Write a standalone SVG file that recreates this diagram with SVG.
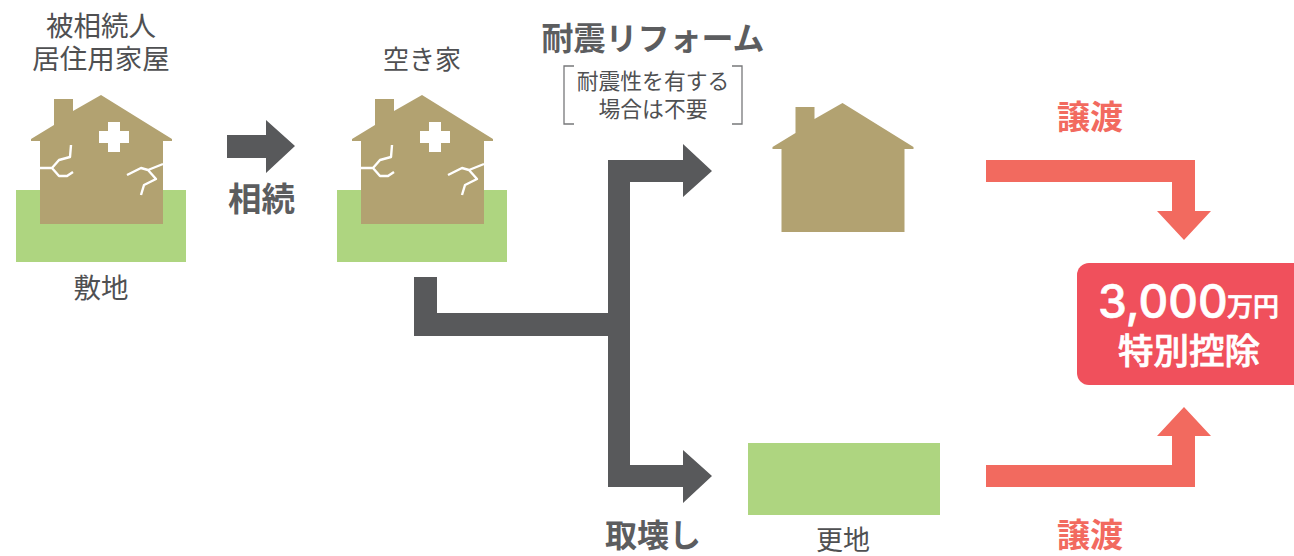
<svg xmlns="http://www.w3.org/2000/svg" width="1294" height="556" viewBox="0 0 1294 556">
<style>
text{font-family:"Noto Sans CJK JP","Noto Sans",sans-serif;text-anchor:middle}
.n{font-size:27.5px;fill:#4f5052}
.s{font-size:21.8px;fill:#4f5052}
.b{font-size:33.5px;font-weight:700;fill:#5c5d5f}
.t{font-size:32px;font-weight:700;fill:#5c5d5f}
.r{font-size:33px;font-weight:700;fill:#f26a5f}
.w{fill:#fff;font-weight:500;stroke:#fff;stroke-width:.7}
.g{fill:#aed580}
.h{fill:#b2a271}
.c{fill:none;stroke:#fff;stroke-width:2.4;stroke-linejoin:round}
.k{fill:#58595b}
.a{fill:#f26a5f}
.br{fill:none;stroke:#77787a;stroke-width:1.3}
</style>
<defs>
<path id="house" class="h" d="M101 95L172 139V141H163V224H40V141H31V139L54 125V99H73V111Z"/>
<g id="damage">
<path fill="#fff" d="M108 122H120V131H129V143H120V152H108V143H99V131H108Z"/>
<path class="c" d="M71 145L70 157L59 160L52 168M40 168H52L59 176H67L73 172M163 164L148 170L141 168L127 175M148 170L156 179L144 185L141 195"/>
</g>
</defs>
<g id="connectors">
<path id="arrow-inherit" class="k" d="M227 135H266V120L295 146L266 173V158H227Z"/>
<path id="arrow-branch" class="k" d="M414 277H437V313H608V160H683V144L712 171L683 197V182H630V465H683V450L712 476L683 503V487H608V336H414Z"/>
<path id="arrow-transfer-top" class="a" d="M986 160H1195V211H1211L1184 240L1157 211H1172V182H986Z"/>
<path id="arrow-transfer-bottom" class="a" d="M986 487H1195V436H1211L1184 407L1157 436H1172V465H986Z"/>
</g>
<g id="node-original">
<text class="n" x="101" y="36">被相続人</text>
<text class="n" x="101" y="69">居住用家屋</text>
<rect class="g" x="16" y="190" width="170" height="72"/>
<use href="#house"/><use href="#damage"/>
<text class="n" x="101" y="298">敷地</text>
</g>
<g id="label-inherit"><text class="b" x="261.500" y="211">相続</text></g>
<g id="node-vacant">
<text class="n" x="422" y="69" style="font-size:26px">空き家</text>
<rect class="g" x="337" y="190" width="170" height="72"/>
<use href="#house" x="321"/><use href="#damage" x="321"/>
</g>
<g id="node-reform">
<text class="t" x="653" y="50">耐震リフォーム</text>
<path class="br" d="M574 66H564V124H574M732 66H742V124H732"/>
<text class="s" x="653" y="89">耐震性を有する</text>
<text class="s" x="653" y="117">場合は不要</text>
<use href="#house" x="741.5" y="8"/>
</g>
<g id="node-vacant-land">
<rect class="g" x="748" y="443" width="192" height="72"/>
<text class="n" x="843" y="550" style="font-size:27px">更地</text>
</g>
<g id="label-demolish"><text class="b" x="653" y="547" style="font-size:32px">取壊し</text></g>
<g id="label-transfer-top"><text class="r" x="1090" y="129">譲渡</text></g>
<g id="label-transfer-bottom"><text class="r" x="1090" y="547">譲渡</text></g>
<g id="node-deduction">
<path fill="#f0505c" d="M1294 263H1089A12 12 0 0 0 1077 275V373A12 12 0 0 0 1089 385H1294Z"/>
<text class="w" x="1098" y="318" style="font-size:46px;text-anchor:start;font-family:Inter,'Liberation Sans',sans-serif">3,000</text>
<text class="w" x="1253" y="316" style="font-size:26px">万円</text>
<text class="w" x="1189" y="364" style="font-size:35.5px">特別控除</text>
</g>
</svg>
